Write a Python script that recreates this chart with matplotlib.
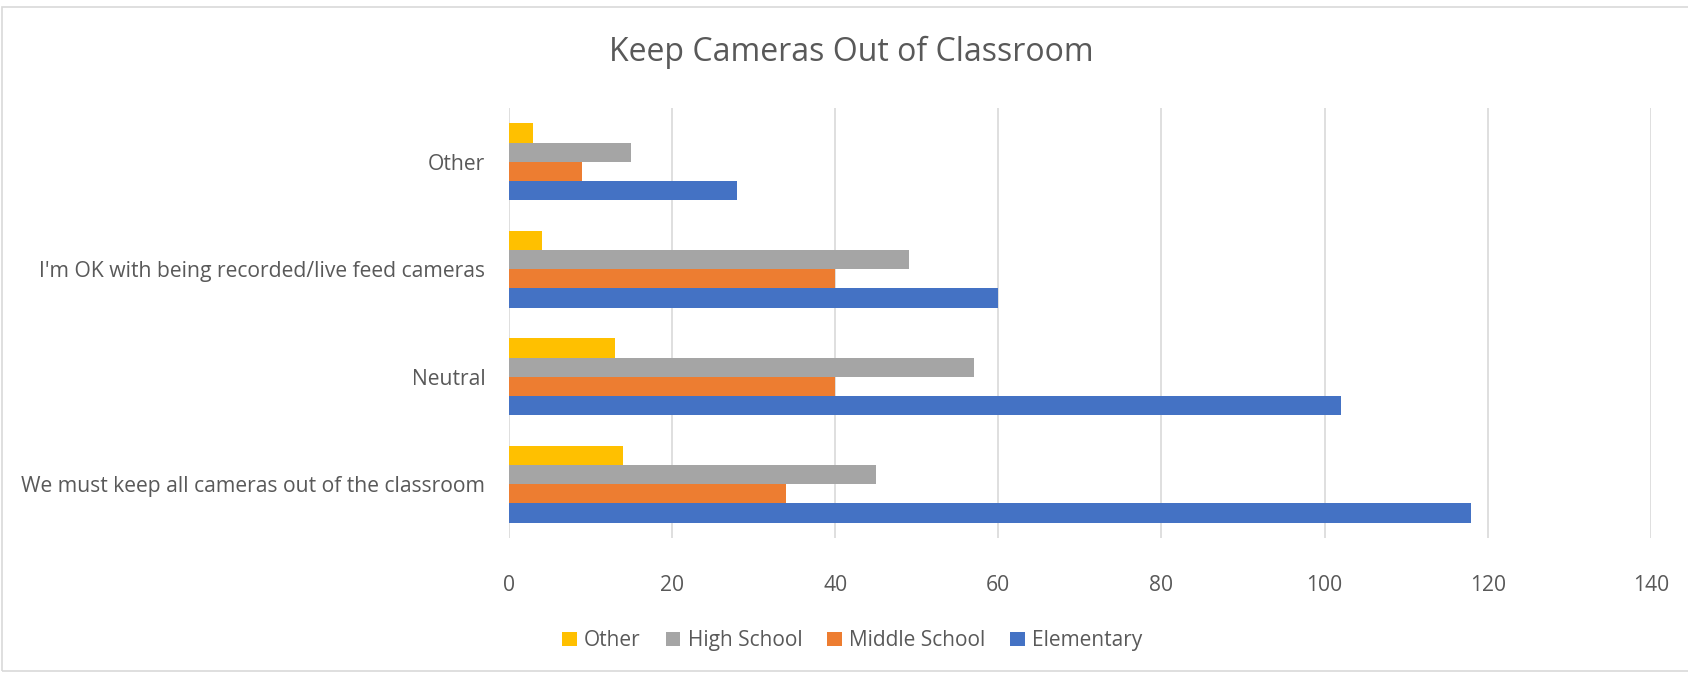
import matplotlib
matplotlib.use("Agg")
import matplotlib.pyplot as plt
from matplotlib.patches import Rectangle
import numpy as np

categories = ["We must keep all cameras out of the classroom", "Neutral",
              "I'm OK with being recorded/live feed cameras", "Other"]
series_names = ["Elementary", "Middle School", "High School", "Other"]
elementary = [118, 102, 60, 28]
middle_school = [34, 40, 40, 9]
high_school = [45, 57, 49, 15]
other = [14, 13, 4, 3]
colors = ["#4472C4", "#ED7D31", "#A5A5A5", "#FFC000"]
xticks = [0, 20, 40, 60, 80, 100, 120, 140]

plt.rcParams['font.family'] = ['Open Sans', 'DejaVu Sans']
text_color = "#595959"

fig = plt.figure(figsize=(16.88, 6.73), dpi=100)
ax = fig.add_axes([0.3015, 0.2006, 0.6765, 0.6389])

y = np.arange(len(categories))
h = 0.178
all_series = [elementary, middle_school, high_school, other]
bars = []
for i, (vals, c, name) in enumerate(zip(all_series, colors, series_names)):
    offs = (i - 1.5) * h
    b = ax.barh(y + offs, vals, height=h, color=c, label=name, zorder=3)
    bars.append(b)

ax.set_xlim(0, 140)
ax.set_ylim(-0.5, 3.5)
ax.set_xticks(xticks)
ax.set_yticks(y)
ax.set_yticklabels(categories)
ax.tick_params(axis='both', length=0, labelsize=15.2, colors=text_color)
ax.tick_params(axis='x', pad=27)
ax.tick_params(axis='y', pad=17)
ax.grid(axis='x', color="#D9D9D9", linewidth=1.2, zorder=0)
for s in ax.spines.values():
    s.set_visible(False)

fig.text(0.5045, 0.922, "Keep Cameras Out of Classroom", ha='center', va='center',
         fontsize=23, color=text_color)

handles = [bars[3], bars[2], bars[1], bars[0]]
labels = ["Other", "High School", "Middle School", "Elementary"]
leg = fig.legend(handles, labels, loc='center', bbox_to_anchor=(0.505, 0.048),
                 ncol=4, frameon=False, fontsize=15, handlelength=0.7,
                 handleheight=0.7, columnspacing=1.2, handletextpad=0.35)
for t in leg.get_texts():
    t.set_color(text_color)

fig.patches.append(Rectangle((2/1688, 2/673), 1.0, 1 - 9/673, transform=fig.transFigure,
                             fill=False, edgecolor="#D9D9D9", linewidth=1.2))

fig.savefig("out.png", dpi=100)
